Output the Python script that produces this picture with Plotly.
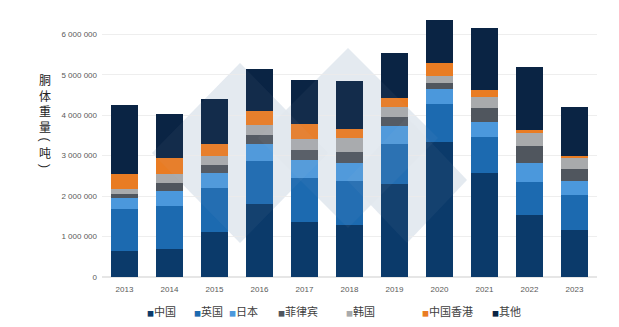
import plotly.graph_objects as go

years = ["2013", "2014", "2015", "2016", "2017", "2018", "2019", "2020", "2021", "2022", "2023"]
series_names = ["中国", "英国", "日本", "菲律宾", "韩国", "中国香港", "其他"]
china = [640000, 680000, 1110000, 1810000, 1350000, 1290000, 2300000, 3330000, 2570000, 1540000, 1160000]
uk = [1030000, 1070000, 1080000, 1050000, 1100000, 1080000, 980000, 950000, 900000, 810000, 870000]
japan = [290000, 370000, 380000, 430000, 450000, 450000, 460000, 370000, 370000, 470000, 350000]
philippines = [100000, 200000, 190000, 220000, 240000, 270000, 220000, 140000, 340000, 410000, 290000]
korea = [110000, 230000, 240000, 250000, 280000, 350000, 250000, 190000, 280000, 330000, 270000]
hongkong = [370000, 380000, 280000, 350000, 350000, 210000, 210000, 300000, 160000, 70000, 60000]
other = [1720000, 1110000, 1120000, 1040000, 1100000, 1200000, 1120000, 1070000, 1530000, 1560000, 1200000]
series_values = [china, uk, japan, philippines, korea, hongkong, other]
colors = ["#0b3a6a", "#1c6ab0", "#4b98dc", "#50565e", "#a8aaac", "#e97c23", "#0a2444"]
y_tick_vals = [0, 1000000, 2000000, 3000000, 4000000, 5000000, 6000000]
y_title_main = ["胴", "体", "重", "量"]
y_title_unit = "吨"
legend_x_px = [145, 192, 227, 276, 344, 420, 490]

W, H = 619, 327
L, R, T, B = 102, 22, 10, 50

fig = go.Figure()

for name, vals, col in zip(series_names, series_values, colors):
    fig.add_trace(go.Bar(x=years, y=vals, name=name, marker=dict(color=col, line=dict(width=0)),
                         showlegend=False))

def px2paper(px, py):
    return (px - L) / (W - L - R), (H - B - py) / (H - T - B)

def diamond(cx, cy, hw, hh):
    pts = [(cx, cy - hh), (cx + hw, cy), (cx, cy + hh), (cx - hw, cy)]
    pp = [px2paper(a, b) for a, b in pts]
    return "M " + " L ".join(f"{a:.4f},{b:.4f}" for a, b in pp) + " Z"

shapes = []
for (cx, cy, hw, hh) in [(240, 153, 88, 90), (348, 138, 90, 90), (407, 180, 60, 63)]:
    shapes.append(dict(type="path", xref="paper", yref="paper", path=diamond(cx, cy, hw, hh),
                       fillcolor="#e6ecf2", line=dict(width=0), layer="below"))
    shapes.append(dict(type="path", xref="paper", yref="paper", path=diamond(cx, cy, hw, hh),
                       fillcolor="rgba(190,205,222,0.05)", line=dict(width=0), layer="above"))

annotations = []
title_font = dict(family="Noto Sans CJK SC", size=12, color="#222222")
# vertical y-axis title: stacked characters
xp, yp = px2paper(45, 103.5)
annotations.append(dict(xref="paper", yref="paper", x=xp, y=yp, text="<br>".join(y_title_main),
                        showarrow=False, xanchor="center", yanchor="middle", borderpad=0,
                        font=title_font))
for txt, rot, py, fam in [("(", 90, 139.5, "Liberation Sans"), (y_title_unit, 0, 152.5, "Noto Sans CJK SC"),
                          (")", 90, 166, "Liberation Sans")]:
    xp, yp = px2paper(45, py)
    annotations.append(dict(xref="paper", yref="paper", x=xp, y=yp, text=txt, textangle=rot,
                            showarrow=False, xanchor="center", yanchor="middle", borderpad=0,
                            font=dict(family=fam, size=12, color="#222222")))
# legend
for name, col, lx in zip(series_names, colors, legend_x_px):
    xp, yp = px2paper(lx, 311)
    annotations.append(dict(xref="paper", yref="paper", x=xp, y=yp, xanchor="left", yanchor="middle",
                            showarrow=False,
                            text=f"<span style='font-size:7px;color:{col}'>■</span>{name}",
                            font=dict(family="Noto Sans CJK SC", size=11, color="#404040")))

fig.update_layout(
    width=W, height=H,
    margin=dict(l=L, r=R, t=T, b=B, pad=0),
    barmode="stack",
    bargap=0.42,
    separators=". ",
    plot_bgcolor="white",
    paper_bgcolor="white",
    shapes=shapes,
    annotations=annotations,
    font=dict(family="Liberation Sans, Arial", size=8, color="#595959"),
    xaxis=dict(showgrid=False, showline=False, ticks="", tickfont=dict(size=8, color="#595959"),
               ticklabelstandoff=6),
    yaxis=dict(range=[0, 6600000], tickvals=y_tick_vals, tickformat=",d", showgrid=True,
               gridcolor="#eeeeee", gridwidth=1, zeroline=True, zerolinecolor="#e6e6e6",
               ticks="", tickfont=dict(size=8, color="#595959"), ticklabelstandoff=4),
)

fig.write_html("out.html")
